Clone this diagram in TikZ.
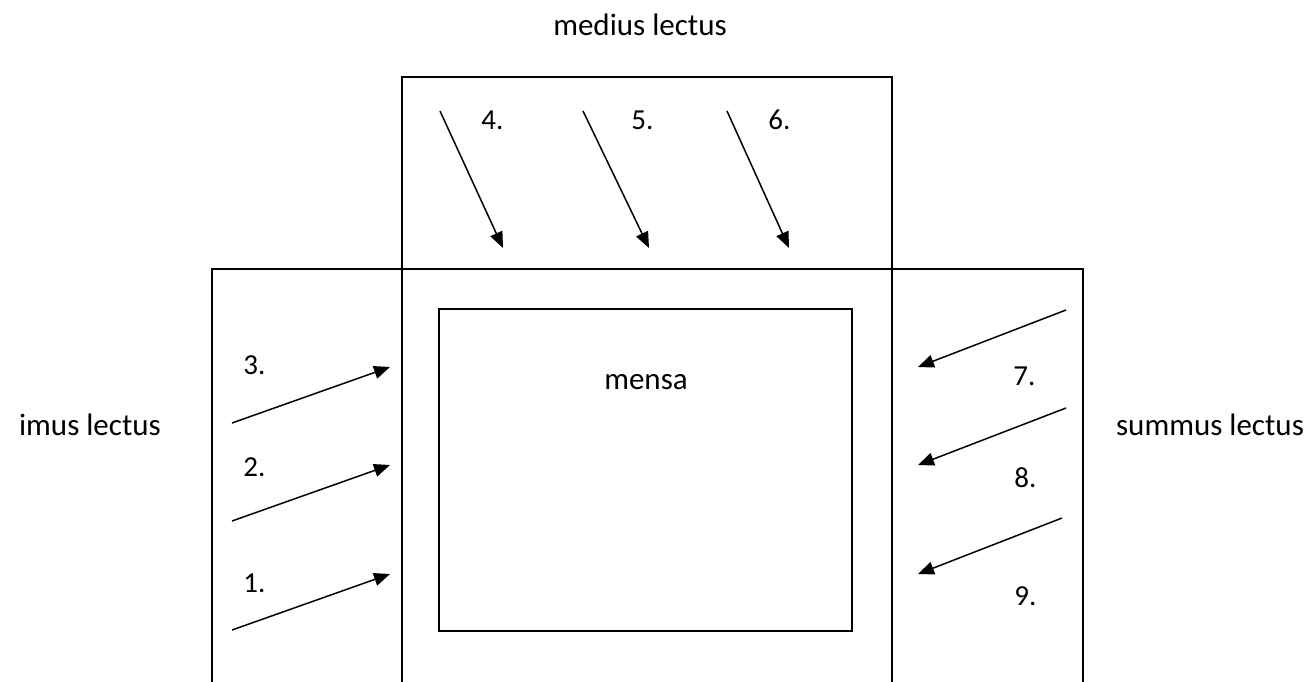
\documentclass[tikz,border=0pt]{standalone}
\usepackage{fontspec}
\setmainfont{Carlito}
\usetikzlibrary{arrows.meta}
\begin{document}
\begin{tikzpicture}[x=0.5pt,y=-0.5pt,
  wall/.style={line width=1pt,black},
  seat/.style={line width=0.75pt,black,-{Triangle[length=8pt,width=6.5pt]}},
  num/.style={inner sep=0pt,anchor=base west,font=\fontsize{14.5}{16}\selectfont},
  lbl/.style={inner sep=0pt,anchor=base,font=\fontsize{15.5}{18}\selectfont}]
\useasboundingbox[fill=white] (0,0) rectangle (1312,681);
% structure
\coordinate (tl) at (402,77);
\coordinate (tr) at (892,77);
\coordinate (ml) at (212,269);
\coordinate (mr) at (1083,269);
\coordinate (bl) at (212,684);
\coordinate (br) at (1083,684);
\coordinate (cl) at (402,684);
\coordinate (cr) at (892,684);
\draw[wall] (cl) -- (tl) -- (tr) -- (cr);
\draw[wall] (bl) -- (ml) -- (mr) -- (br);
\node[draw,line width=1pt,minimum width=413pt*0.5,minimum height=322pt*0.5,inner sep=0pt] (mensabox) at (645.5,470) {};
\node[lbl] (mensa) at (646,389) {mensa};
\node[lbl] (medius) at (640,35) {medius lectus};
\node[lbl] (imus) at (90,435) {imus lectus};
\node[lbl] (summus) at (1210,435) {summus lectus};
% arrows top
\coordinate (a4s) at (440,111); \coordinate (a4e) at (503,248);
\coordinate (a5s) at (583,111); \coordinate (a5e) at (649,248);
\coordinate (a6s) at (727,111); \coordinate (a6e) at (789,248);
\draw[seat] (a4s) -- (a4e);
\draw[seat] (a5s) -- (a5e);
\draw[seat] (a6s) -- (a6e);
\node[num] (n4) at (481,129) {4.};
\node[num] (n5) at (631,129) {5.};
\node[num] (n6) at (768,129) {6.};
% arrows left
\coordinate (a3s) at (232,423); \coordinate (a3e) at (390,367);
\coordinate (a2s) at (232,521); \coordinate (a2e) at (390,465);
\coordinate (a1s) at (232,630); \coordinate (a1e) at (390,574);
\draw[seat] (a3s) -- (a3e);
\draw[seat] (a2s) -- (a2e);
\draw[seat] (a1s) -- (a1e);
\node[num] (n3) at (243,374) {3.};
\node[num] (n2) at (243,476) {2.};
\node[num] (n1) at (243,592) {1.};
% arrows right
\coordinate (a7s) at (1066,310); \coordinate (a7e) at (918,367);
\coordinate (a8s) at (1066,408); \coordinate (a8e) at (918,465);
\coordinate (a9s) at (1062,518); \coordinate (a9e) at (918,574);
\draw[seat] (a7s) -- (a7e);
\draw[seat] (a8s) -- (a8e);
\draw[seat] (a9s) -- (a9e);
\node[num] (n7) at (1013,385) {7.};
\node[num] (n8) at (1014,487) {8.};
\node[num] (n9) at (1014,605) {9.};
\end{tikzpicture}
\end{document}
